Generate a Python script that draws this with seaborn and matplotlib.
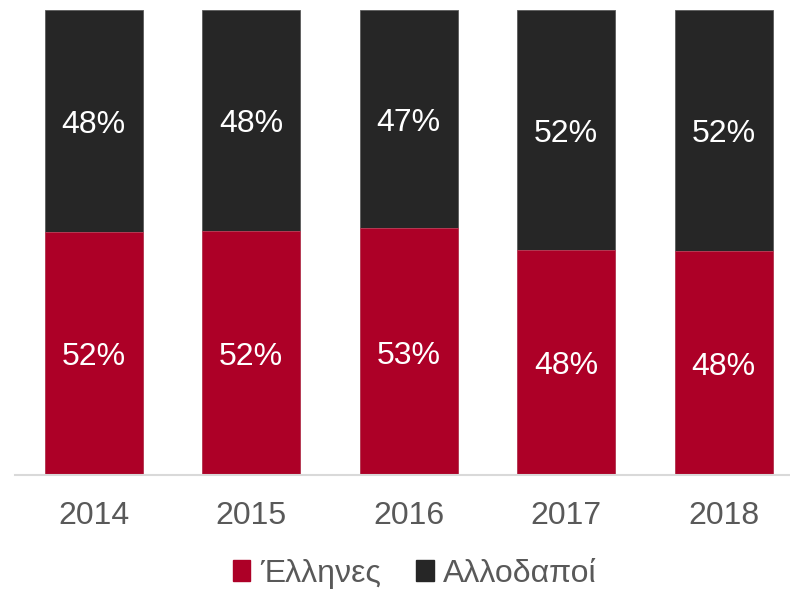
import matplotlib
matplotlib.use("Agg")
import matplotlib.pyplot as plt
import seaborn as sns
import pandas as pd
import numpy as np
from matplotlib.patches import Patch
from matplotlib.transforms import offset_copy

years = ["2014", "2015", "2016", "2017", "2018"]
greeks = [52.3, 52.5, 53.1, 48.4, 48.2]
foreigners = [47.7, 47.5, 46.9, 51.6, 51.8]
greek_labels = ["52%", "52%", "53%", "48%", "48%"]
foreign_labels = ["48%", "48%", "47%", "52%", "52%"]
series_names = ["Έλληνες", "Αλλοδαποί"]

RED = "#AD0027"
DARK = "#262626"
GRAY_TXT = "#595959"

sns.set_theme(style="white")
plt.rcParams["font.family"] = ["Liberation Sans", "DejaVu Sans"]

df = pd.DataFrame({"year": years, "greek": greeks, "foreign": foreigners})
df["total"] = df["greek"] + df["foreign"]

fig = plt.figure(figsize=(7.9, 5.92), dpi=100)
ax = fig.add_axes([15 / 790, 117 / 592, 787.5 / 790, 465 / 592])

sns.barplot(data=df, x="year", y="total", color=DARK, saturation=1, width=0.62,
            ax=ax, edgecolor="#5a5a5a", linewidth=0.6)
sns.barplot(data=df, x="year", y="greek", color=RED, saturation=1, width=0.62,
            ax=ax, edgecolor="#c0405a", linewidth=0.6)

ax.set_xlim(-0.5, 4.5)
ax.set_ylim(0, 100)

trans = offset_copy(ax.transData, fig=fig, x=0, y=-4, units="dots")
for i, (g, f) in enumerate(zip(greeks, foreigners)):
    ax.text(i, g / 2, greek_labels[i], ha="center", va="center", color="white",
            fontsize=23, transform=trans)
    ax.text(i, g + f / 2, foreign_labels[i], ha="center", va="center", color="white",
            fontsize=23, transform=trans)

ax.set_xlabel("")
ax.set_ylabel("")
ax.set_yticks([])
for s in ["top", "right", "left"]:
    ax.spines[s].set_visible(False)
ax.spines["bottom"].set_color("#D9D9D9")
ax.spines["bottom"].set_linewidth(1.5)
ax.tick_params(axis="x", length=0, pad=19, labelsize=23, labelcolor=GRAY_TXT)

handles = [Patch(facecolor=RED, edgecolor=RED), Patch(facecolor=DARK, edgecolor=DARK)]
fig.legend(handles, series_names, loc="center", bbox_to_anchor=(0.525, 18 / 592),
           ncol=2, frameon=False, fontsize=23, labelcolor=GRAY_TXT,
           handlelength=0.55, handleheight=0.65, handletextpad=0.3, columnspacing=1.1,
           borderpad=0.1)

fig.savefig("out.png", dpi=100)
